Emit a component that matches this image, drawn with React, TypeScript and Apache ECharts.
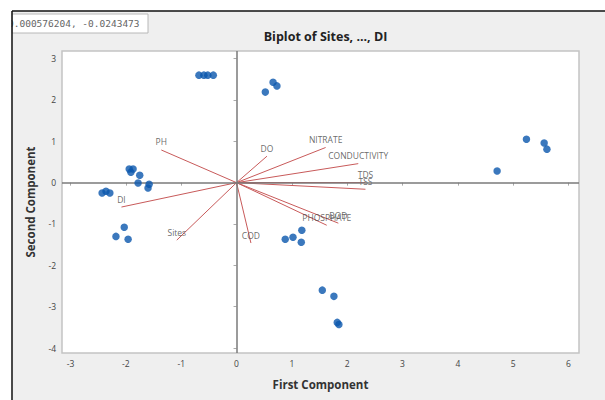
import React, { useEffect, useRef } from "react";
import * as echarts from "echarts";

// Site scores (first component, second component)
const siteX = [
  -0.68, -0.59, -0.52, -0.42, 0.52, 0.66, 0.73,
  -1.94, -1.87, -1.91, -1.75, -1.78, -1.58, -1.6, -2.43, -2.36, -2.29, -2.03, -2.18, -1.96,
  5.24, 5.56, 5.61, 4.71,
  0.88, 1.02, 1.17, 1.18,
  1.55, 1.76, 1.82, 1.85,
];
const siteY = [
  2.6, 2.6, 2.6, 2.6, 2.19, 2.43, 2.34,
  0.33, 0.33, 0.25, 0.18, -0.01, -0.04, -0.13, -0.25, -0.21, -0.25, -1.08, -1.3, -1.37,
  1.05, 0.96, 0.81, 0.28,
  -1.37, -1.32, -1.44, -1.15,
  -2.6, -2.75, -3.38, -3.43,
];

// Variable loadings (vector end points)
const varNames = ["PH", "DI", "Sites", "COD", "DO", "NITRATE", "CONDUCTIVITY", "TDS", "TSS", "PHOSPHATE", "BOD"];
const varX = [-1.36, -2.08, -1.08, 0.26, 0.55, 1.61, 2.2, 2.33, 2.33, 1.63, 1.84];
const varY = [0.79, -0.59, -1.39, -1.46, 0.64, 0.85, 0.46, 0.0, -0.16, -1.03, -0.98];

const xTicks = [-3, -2, -1, 0, 1, 2, 3, 4, 5, 6];
const yTicks = [-4, -3, -2, -1, 0, 1, 2, 3];

const FONT = "'Open Sans', 'Noto Sans', sans-serif";

export default function App() {
  const ref = useRef<HTMLDivElement>(null);
  useEffect(() => {
    document.body.style.margin = "0";
    const chart = echarts.init(ref.current!, null, { renderer: "svg" });
    const sites = siteX.map((x, i) => [x, siteY[i]]);
    const vecLines = varNames.map((n, i) => ({ coords: [[0, 0], [varX[i], varY[i]]] }));
    const vecEnds = varNames.map((n, i) => ({ name: n, value: [varX[i], varY[i]] }));
    chart.setOption({
      animation: false,
      backgroundColor: "#efefef",
      title: {
        text: "Biplot of Sites, ..., DI",
        left: 320.5,
        top: 25,
        textAlign: "center",
        textStyle: { fontFamily: FONT, fontSize: 12.5, fontWeight: "bold", color: "#222" },
      },
      graphic: [
        { type: "rect", shape: { x: 12, y: 14, width: 136, height: 19 }, style: { fill: "#fff", stroke: "#b8b8b8", lineWidth: 1 } },
        {
          type: "text",
          x: 8,
          y: 23.5,
          style: {
            text: "0.000576204, -0.0243473",
            fontFamily: "'DejaVu Sans Mono', monospace",
            fontSize: 9.5,
            fill: "#666",
            verticalAlign: "middle",
          },
        },
        { type: "rect", shape: { x: 0, y: 0, width: 605, height: 11 }, style: { fill: "#fff" } },
        { type: "rect", shape: { x: 0, y: 0, width: 11.5, height: 400 }, style: { fill: "#fff" } },
        { type: "line", shape: { x1: 12, y1: 11, x2: 605, y2: 11 }, style: { stroke: "#111", lineWidth: 1.5 } },
        { type: "line", shape: { x1: 12, y1: 11, x2: 12, y2: 400 }, style: { stroke: "#111", lineWidth: 1.5 } },
      ],
      grid: {
        left: 62,
        right: 26,
        top: 51,
        bottom: 47,
        show: true,
        backgroundColor: "#fff",
        borderColor: "#c4c4c4",
        borderWidth: 1.5,
      },
      xAxis: {
        type: "value",
        min: -3.155,
        max: 6.19,
        name: "First Component",
        nameLocation: "middle",
        nameGap: 25,
        nameTextStyle: { fontFamily: FONT, fontSize: 11.5, fontWeight: "bold", color: "#333" },
        axisLine: { show: false },
        splitLine: { show: false },
        axisTick: { show: true, length: 3, customValues: xTicks, lineStyle: { color: "#aaa" } },
        axisLabel: { customValues: xTicks, margin: 6, fontFamily: FONT, fontSize: 8.5, color: "#444" },
      },
      yAxis: {
        type: "value",
        min: -4.12,
        max: 3.184,
        name: "Second Component",
        nameLocation: "middle",
        nameGap: 26,
        nameTextStyle: { fontFamily: FONT, fontSize: 11.5, fontWeight: "bold", color: "#333" },
        axisLine: { show: false },
        splitLine: { show: false },
        axisTick: { show: true, length: 3, customValues: yTicks, lineStyle: { color: "#aaa" } },
        axisLabel: { customValues: yTicks, margin: 6, fontFamily: FONT, fontSize: 8.5, color: "#444" },
      },
      series: [
        {
          type: "scatter",
          data: [],
          silent: true,
          markLine: {
            silent: true,
            symbol: "none",
            label: { show: false },
            lineStyle: { color: "#7a7a7a", width: 1.5, type: "solid" },
            data: [{ xAxis: 0 }, { yAxis: 0 }],
          },
        },
        {
          type: "lines",
          coordinateSystem: "cartesian2d",
          data: vecLines,
          silent: true,
          lineStyle: { color: "#c85a5a", width: 1, opacity: 1 },
          z: 3,
        },
        {
          type: "scatter",
          data: vecEnds,
          symbolSize: 1,
          itemStyle: { color: "transparent" },
          silent: true,
          label: {
            show: true,
            position: "top",
            distance: 3,
            formatter: "{b}",
            fontFamily: FONT,
            fontSize: 8.5,
            color: "#444",
          },
          z: 4,
        },
        {
          type: "scatter",
          data: sites,
          symbol: "circle",
          symbolSize: 7.5,
          itemStyle: { color: "#0a56ad" },
          z: 5,
        },
      ],
    });
    return () => chart.dispose();
  }, []);
  return <div ref={ref} style={{ width: 605, height: 400 }} />;
}
